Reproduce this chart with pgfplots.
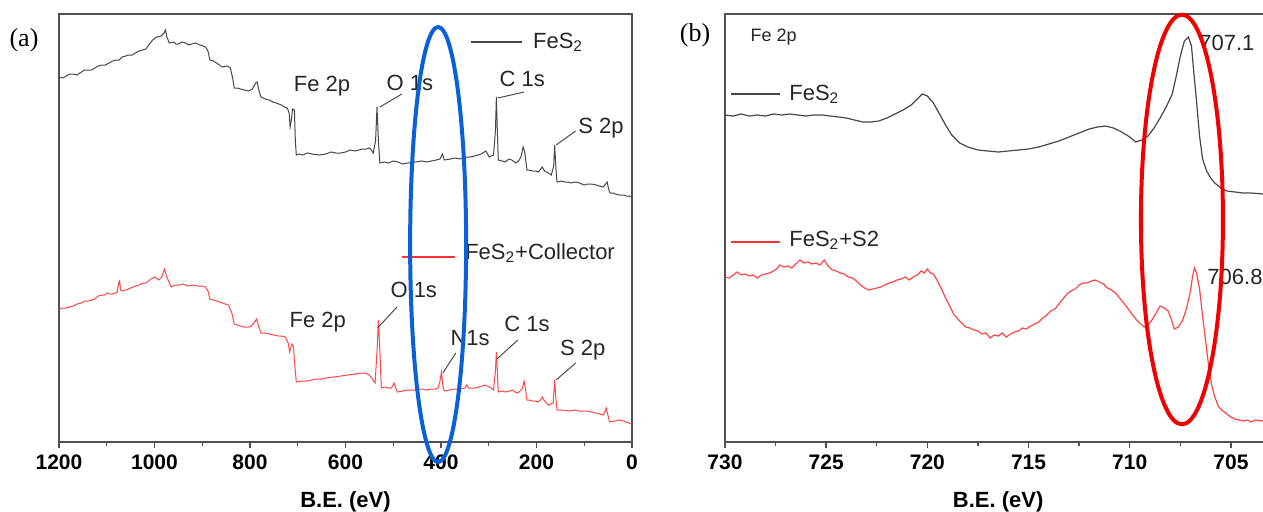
\documentclass[border=0pt]{standalone}
\usepackage{pgfplots}
\pgfplotsset{compat=1.18}
\usepackage{pgfplotstable}
\usepackage{fontspec}
\setmainfont{Liberation Sans}
\newfontfamily\panelfont{Liberation Serif}

\definecolor{curvegray}{HTML}{474747}
\definecolor{curvered}{HTML}{FF4545}
\definecolor{legendred}{HTML}{FF3030}
\definecolor{ringblue}{HTML}{0B5FD9}
\definecolor{ringred}{HTML}{F00000}
\definecolor{spine}{HTML}{505050}

% ---------- survey spectra (binding energy / intensity) ----------
\pgfplotstableread{
eV h
1200 364
1192 363
1185 365
1178 367
1170 367
1162 366
1153 369
1147 371
1140 371
1132 371
1125 373
1118 375
1110 376
1103 376
1095 378
1088 380
1080 381
1074 381
1068 384
1060 385
1055 386
1047 386
1040 388
1032 390
1025 391
1018 392
1012 396
1004 401
995 404
986 405
980 408
977 411
974 404
969 398
960 399
955 397
950 397
942 399
935 398
928 396
922 397
913 398
905 396
898 395
893 394
888 390
884 381
877 380
870 378
864 376
858 374
848 375
841 373
836 362
833 353
826 353
820 352
812 351
803 350
795 352
788 358
785 359
781 350
777 344
768 342
760 341
752 339
745 338
740 337
734 336
728 334
722 333
718 328
716 314
713 322
711 332
707 331
705 300
703 286
696 287
690 286
680 288
670 287
655 286
641 287
630 289
620 288
610 288
600 289
590 291
580 290
572 291
564 292
557 292
550 293
546 291
542 288
537 300
534 334
531 300
528 278
518 279
510 278
500 280
490 279
480 277
470 278
455 279
440 280
430 279
420 280
410 281
402 282
397 287
393 281
380 282
370 283
360 282
350 284
340 284
330 285
322 286
316 287
306 290
299 284
290 286
286 310
284 344
282 310
280 281
272 280
265 279
258 282
252 281
243 278
236 281
232 285
228 294
225 290
220 271
214 271
208 270
202 270
196 269
188 274
183 270
175 268
169 266
164 275
162 296
159 270
157 259
148 260
140 259
133 259
128 258
118 259
110 258
100 256
94 257
85 257
75 256
68 255
60 254
52 259
49 252
46 248
40 248
35 247
26 246
18 246
12 245
6 245
0 244
}\surveyplain

\pgfplotstableread{
eV h
1200 132
1192 133
1185 133
1178 134
1170 135
1162 137
1153 138
1147 140
1140 140
1132 141
1125 142
1118 145
1110 146
1104 146
1100 148
1094 147
1089 147
1082 148
1078 149
1075 158
1073 160
1071 151
1068 150
1060 151
1050 153
1045 154
1040 155
1032 156
1025 158
1018 158
1010 161
1004 163
999 164
991 161
985 164
979 172
975 165
965 154
957 156
948 156
940 157
930 155
920 156
910 155
902 155
893 154
888 150
884 142
877 141
870 140
864 139
858 138
852 137
845 136
838 128
833 117
827 116
820 115
812 114
803 114
797 115
792 118
786 122
782 115
777 108
768 108
760 107
750 106
740 105
733 105
726 104
720 98
717 89
714 94
712 97
709 94
706 75
703 59
692 60
680 60
670 61
660 62
650 62
641 63
625 64
610 65
595 66
580 67
570 68
559 68
550 66
544 62
538 58
534 90
531 121
528 90
525 53
518 54
510 53
504 53
498 58
494 52
491 49
480 50
470 51
455 51
440 52
430 51
420 52
412 52
406 53
402 60
399 69
396 55
393 50
382 51
370 52
360 52
350 53
346 56
342 53
330 53
320 54
314 55
308 56
298 54
290 51
286 70
284 89
282 70
280 49
272 50
265 49
256 50
250 51
245 49
239 48
230 52
226 60
223 52
220 41
214 41
208 40
202 40
196 39
190 42
188 44
183 40
175 36
170 37
165 38
162 61
159 40
157 31
145 31
130 30
120 31
110 30
102 30
94 30
85 29
75 28
68 27
60 26
56 30
54 33
50 25
47 19
40 20
35 20
26 21
18 20
12 19
6 18
0 17
}\surveycollector

% ---------- Fe 2p high-resolution spectra ----------
\pgfplotstableread{
eV h
730.0 326
729.6 325
729.2 327
728.8 325
728.4 326
728.0 325
727.6 327
727.2 326
726.8 327
726.4 326
726.0 325
725.6 326
725.2 326
724.8 325
724.4 324
724.0 323
723.6 321
723.2 319
722.8 319
722.4 320
722.0 323
721.6 327
721.2 331
720.8 336
720.5 342
720.25 347
720.0 345
719.7 338
719.4 327
719.1 316
718.8 306
718.4 298
718.0 294
717.5 291
717.0 290
716.5 289
716.0 290
715.5 291
715.0 292
714.5 294
714.0 297
713.5 300
713.0 304
712.5 308
712.0 312
711.6 314
711.2 315
710.8 313
710.4 309
710.0 304
709.7 299
709.4 301
709.1 305
708.8 313
708.5 323
708.2 334
707.9 347
707.7 365
707.5 385
707.3 400
707.1 404
706.95 395
706.85 372
706.7 340
706.55 305
706.4 282
706.2 270
706.0 263
705.8 258
705.5 253
705.2 250
704.8 249
704.4 248
704.0 248
703.4 247
}\fetwoplain

\pgfplotstableread{
eV h
730.0 164
729.8 163
729.6 166
729.4 169
729.2 166
729.0 167
728.8 165
728.6 166
728.4 163
728.2 166
728.0 167
727.8 168
727.6 170
727.4 173
727.3 176
727.1 174
726.9 175
726.7 173
726.5 177
726.3 181
726.1 178
725.9 179
725.7 177
725.5 178
725.3 176
725.1 181
724.9 175
724.7 171
724.5 170
724.3 168
724.1 167
723.9 164
723.7 163
723.5 160
723.3 156
723.1 153
722.9 151
722.7 152
722.5 153
722.3 154
722.1 156
721.9 158
721.7 159
721.5 161
721.3 162
721.1 164
720.9 161
720.7 164
720.5 166
720.3 170
720.15 168
720.0 172
719.85 168
719.7 167
719.5 160
719.3 152
719.1 143
718.9 135
718.7 127
718.5 122
718.3 118
718.1 114
717.9 113
717.7 111
717.5 110
717.3 107
717.1 108
716.9 103
716.7 106
716.5 105
716.3 108
716.1 104
715.9 107
715.7 109
715.5 110
715.3 113
715.1 112
714.9 115
714.7 117
714.5 119
714.3 123
714.1 126
713.9 130
713.7 132
713.5 137
713.3 142
713.1 147
712.9 150
712.7 152
712.5 156
712.3 158
712.1 158
711.9 160
711.7 161
711.5 159
711.3 157
711.1 153
710.9 151
710.7 148
710.5 143
710.3 138
710.1 133
709.9 127
709.7 122
709.5 118
709.3 114
709.1 116
708.9 121
708.7 128
708.5 135
708.3 133
708.1 130
707.95 122
707.8 112
707.6 114
707.4 120
707.2 132
707.0 150
706.9 164
706.8 173
706.7 168
706.55 152
706.4 125
706.25 100
706.1 75
705.95 56
705.8 44
705.6 34
705.4 30
705.2 27
705.0 24
704.8 22
704.6 21
704.4 20
704.2 21
704.0 19
703.8 21
703.4 20
}\fetwocollector

\pgfplotsset{
  xpsaxis/.style={
    scale only axis,
    height=214pt,
    ymin=-1, ymax=427,
    x dir=reverse,
    ytick=\empty,
    clip=false,
    axis line style={spine, line width=0.7pt},
    tick align=outside,
    xtick pos=bottom,
    major tick length=3pt,
    minor tick length=2.2pt,
    every tick/.style={spine, line width=0.7pt},
    minor x tick num=1,
    xticklabel style={font=\fontsize{10.5}{12}\selectfont\bfseries, text=black},
    xlabel style={font=\fontsize{11}{13}\selectfont\bfseries,
      at={(axis description cs:0.5,-0.14)}, anchor=center},
    xlabel={B.E. (eV)},
  },
}
\tikzset{
  note/.style={font=\fontsize{11}{13}\selectfont, text=black!85, inner sep=0pt},
  leader/.style={black!70, line width=0.5pt},
}

\begin{document}
\begin{tikzpicture}
\useasboundingbox (0,0) rectangle (631.5pt,255.5pt);

% (a) survey spectra
\begin{axis}[xpsaxis,
  at={(29.5pt,34.5pt)}, anchor=south west,
  width=286.5pt,
  xmin=0, xmax=1200,
  xtick={0,200,400,600,800,1000,1200},
  xticklabels={0,200,400,600,800,1000,1200},
]
\addplot[curvegray, line width=0.5pt] table[x=eV, y=h] {\surveyplain};
\addplot[curvered, line width=0.5pt] table[x=eV, y=h] {\surveycollector};

% peak labels, FeS2
\node[note] at (axis cs:649,355) {Fe 2p};
\node[note] at (axis cs:465,358) {O 1s};
\draw[leader] (axis cs:528,334) -- (axis cs:482,347);
\node[note] at (axis cs:230,362) {C 1s};
\draw[leader] (axis cs:281,343) -- (axis cs:226,349);
\node[note] at (axis cs:65,313) {S 2p};
\draw[leader] (axis cs:159,296) -- (axis cs:118,310);
\draw[curvegray, line width=0.6pt] (axis cs:337,399) -- (axis cs:230,399);
\node[note, anchor=west] at (axis cs:208,399) {FeS\textsubscript{2}};

% peak labels, FeS2 + collector
\node[note] at (axis cs:658,119) {Fe 2p};
\node[note] at (axis cs:457,151) {O 1s};
\draw[leader] (axis cs:533,113) -- (axis cs:492,134);
\node[note] at (axis cs:339,103) {N1s};
\draw[leader] (axis cs:396,68) -- (axis cs:369,88);
\node[note] at (axis cs:220,117) {C 1s};
\draw[leader] (axis cs:283,82) -- (axis cs:239,101);
\node[note] at (axis cs:103,91) {S 2p};
\draw[leader] (axis cs:159,61) -- (axis cs:118,78);
\draw[legendred, line width=0.7pt] (axis cs:482,184) -- (axis cs:371,184);
\node[note, anchor=west] at (axis cs:350,188) {FeS\textsubscript{2}+Collector};

% N 1s region
\draw[ringblue, line width=2pt] (axis cs:406,196.5) ellipse [x radius=14pt, y radius=108.75pt];
\end{axis}

% (b) Fe 2p region
\begin{axis}[xpsaxis,
  at={(362.5pt,34.5pt)}, anchor=south west,
  width=273.2pt,
  xmin=703, xmax=730,
  xtick={705,710,715,720,725,730},
  xticklabels={705,710,715,720,725,730},
]
\addplot[curvegray, line width=0.6pt] table[x=eV, y=h] {\fetwoplain};
\addplot[curvered, line width=0.6pt] table[x=eV, y=h] {\fetwocollector};

\node[note, font=\fontsize{9}{11}\selectfont] at (axis cs:727.6,404) {Fe 2p};
\node[note] at (axis cs:705.2,398) {707.1};
\node[note] at (axis cs:704.8,164) {706.8};
\draw[curvegray, line width=0.6pt] (axis cs:729.7,347) -- (axis cs:727.3,347);
\node[note, anchor=west] at (axis cs:726.84,347) {FeS\textsubscript{2}};
\draw[legendred, line width=0.7pt] (axis cs:729.7,199) -- (axis cs:727.3,199);
\node[note, anchor=west] at (axis cs:726.84,201) {FeS\textsubscript{2}+S2};

% main Fe 2p3/2 peak
\draw[ringred, line width=2pt] (axis cs:707.42,221.5) ellipse [x radius=20.5pt, y radius=102.4pt];
\end{axis}

\node[font=\panelfont\fontsize{13}{15}\selectfont, inner sep=0pt] at (12pt,235.5pt) {(a)};
\node[font=\panelfont\fontsize{13}{15}\selectfont, inner sep=0pt] at (347.5pt,238pt) {(b)};
\end{tikzpicture}
\end{document}
